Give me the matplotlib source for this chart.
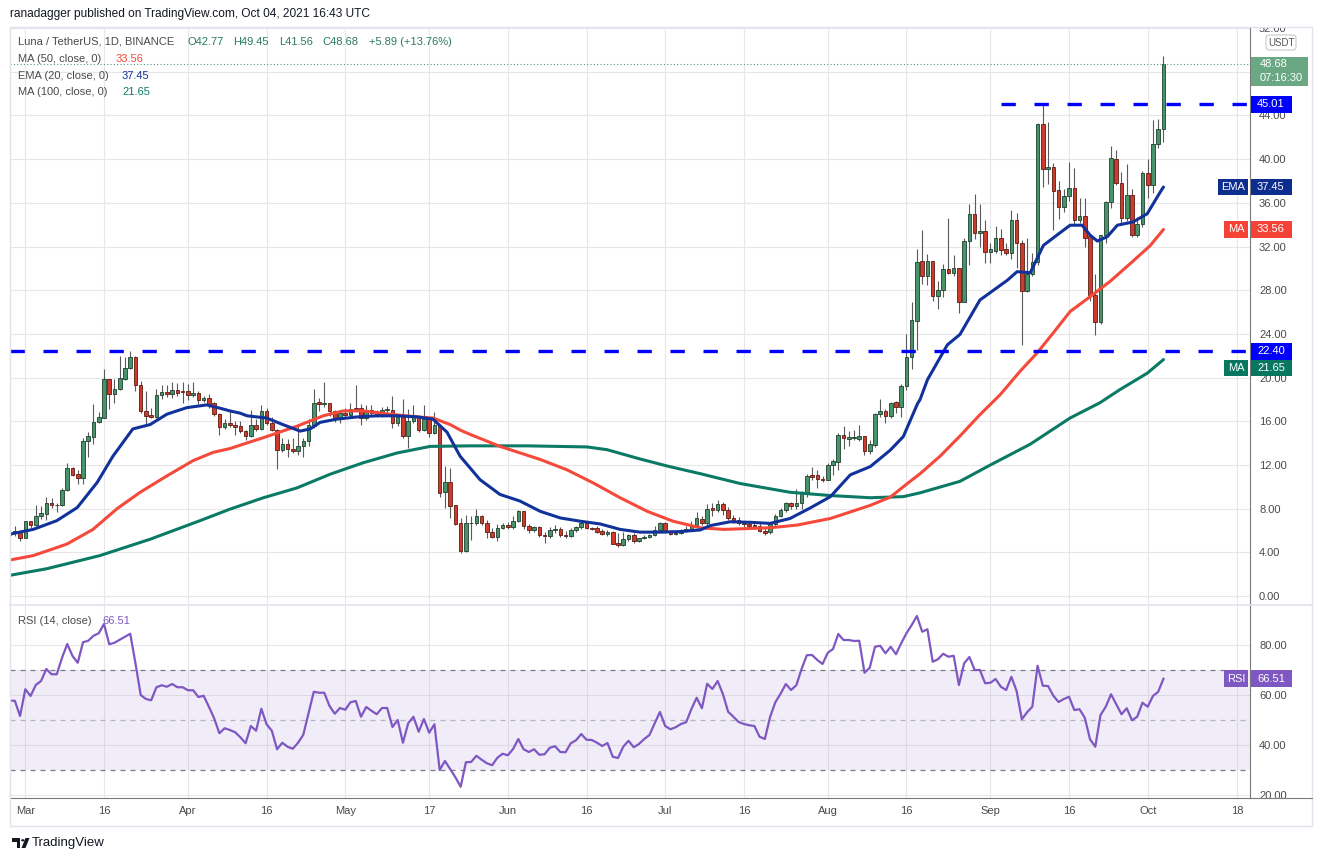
import numpy as np
import pandas as pd
import matplotlib
matplotlib.use("Agg")
import matplotlib.pyplot as plt
from matplotlib.patches import Rectangle, FancyBboxPatch, Polygon, Circle
from matplotlib.transforms import Bbox

plt.rcParams['font.family'] = ['Liberation Sans', 'DejaVu Sans']

# daily candles, LUNA/USDT, 2021-02-26 .. 2021-10-04 (rows of ten days)
opens = [5.55, 5.75, 5.9, 5.35, 6.85, 6.5, 7.3, 7.55, 8.5, 8.35,
         8.3, 9.75, 11.7, 11.15, 10.8, 14.15, 14.6, 15.9, 16.3, 19.9,
         18.5, 19.0, 19.9, 20.9, 21.9, 19.3, 16.95, 16.55, 16.4, 18.45,
         18.7, 18.5, 18.9, 18.75, 18.75, 18.45, 18.55, 17.95, 18.15, 17.65,
         16.7, 15.45, 15.8, 15.65, 15.55, 15.15, 14.65, 15.65, 15.25, 16.9,
         15.8, 15.2, 13.4, 13.9, 13.5, 13.3, 13.7, 14.15, 15.6, 17.75,
         17.6, 17.7, 16.9, 16.2, 16.8, 16.6, 17.2, 17.2, 16.3, 17.05,
         16.8, 16.6, 17.05, 17.05, 15.85, 16.35, 14.65, 16.0, 16.45, 15.2,
         16.25, 14.95, 15.7, 9.5, 10.4, 8.3, 6.65, 4.1, 6.65, 6.7,
         7.35, 6.7, 5.9, 5.45, 6.2, 6.5, 6.3, 6.9, 7.75, 6.4,
         6.0, 6.3, 5.6, 5.5, 6.0, 6.15, 5.6, 5.5, 6.05, 6.3,
         6.65, 6.2, 6.2, 5.95, 5.65, 5.9, 4.9, 4.7, 5.25, 5.6,
         5.0, 5.3, 5.45, 5.55, 6.05, 6.65, 5.9, 5.7, 5.8, 5.95,
         6.1, 6.5, 7.05, 6.65, 8.05, 7.85, 8.4, 7.85, 7.1, 6.95,
         6.7, 6.6, 6.5, 6.45, 5.95, 5.85, 6.6, 7.35, 7.9, 8.5,
         8.2, 8.5, 9.45, 11.05, 11.05, 10.75, 10.6, 12.0, 12.3, 14.75,
         14.4, 14.5, 14.4, 14.65, 13.3, 13.85, 16.65, 16.95, 16.5, 17.75,
         17.3, 19.2, 21.85, 25.2, 30.7, 29.3, 30.65, 27.5, 28.0, 29.9,
         29.55, 30.0, 26.95, 32.55, 35.0, 33.2, 33.4, 31.5, 31.6, 32.75,
         31.75, 31.4, 34.4, 32.3, 27.9, 29.5, 30.55, 43.25, 39.1, 39.25,
         37.15, 35.6, 36.65, 37.4, 34.4, 34.75, 32.95, 27.55, 25.1, 33.1,
         36.1, 40.05, 37.85, 34.65, 36.75, 33.1, 34.1, 38.75, 37.65, 41.4,
         42.77]
highs = [6.0, 6.4, 6.0, 6.9, 6.9, 8.3, 8.25, 9.05, 9.0, 8.55,
         9.9, 12.15, 11.8, 11.55, 14.45, 15.0, 17.55, 16.85, 20.8, 19.9,
         19.85, 22.0, 21.9, 22.4, 22.0, 19.7, 18.8, 17.2, 19.0, 19.3,
         19.3, 19.6, 19.5, 19.6, 19.4, 19.6, 18.8, 18.3, 18.5, 17.8,
         16.75, 16.2, 17.0, 16.0, 16.0, 15.2, 17.0, 16.2, 17.5, 17.2,
         16.35, 15.25, 14.5, 14.35, 14.5, 15.6, 14.5, 16.2, 19.0, 18.1,
         19.6, 17.7, 17.0, 17.0, 17.2, 17.7, 19.35, 17.6, 17.5, 17.5,
         17.0, 17.3, 17.4, 18.3, 16.6, 18.0, 17.1, 17.45, 16.6, 17.5,
         16.35, 16.85, 15.75, 11.9, 11.7, 8.35, 7.15, 7.4, 7.3, 8.0,
         7.4, 6.95, 6.2, 6.55, 6.65, 6.8, 7.3, 7.9, 7.75, 6.55,
         6.4, 6.45, 5.9, 6.3, 6.5, 6.3, 5.95, 6.2, 6.45, 6.9,
         6.7, 6.35, 6.4, 6.1, 6.0, 5.95, 5.8, 5.85, 5.7, 5.75,
         5.35, 5.6, 5.65, 6.4, 6.75, 6.75, 6.0, 5.85, 6.1, 6.45,
         6.9, 7.7, 7.3, 8.4, 8.55, 8.75, 8.6, 8.15, 7.4, 7.2,
         6.9, 6.85, 6.85, 6.65, 6.2, 6.75, 7.5, 8.05, 8.65, 8.65,
         9.8, 9.6, 11.15, 11.8, 11.55, 11.0, 12.15, 12.55, 14.9, 15.6,
         15.15, 15.2, 15.65, 14.65, 14.3, 16.8, 18.0, 17.1, 17.75, 17.85,
         19.45, 24.0, 26.9, 31.8, 33.5, 31.35, 30.65, 28.85, 30.4, 34.65,
         31.2, 30.0, 32.8, 35.85, 36.85, 35.9, 34.4, 32.3, 33.85, 33.65,
         32.3, 35.3, 35.1, 32.6, 32.75, 31.45, 43.3, 45.0, 43.4, 39.65,
         38.0, 37.25, 39.7, 39.2, 36.4, 36.4, 32.95, 29.45, 33.1, 36.15,
         41.25, 40.8, 38.8, 39.6, 37.3, 34.7, 38.95, 40.05, 43.55, 43.65,
         49.45]
lows = [5.4, 5.5, 5.0, 5.3, 6.25, 6.4, 7.05, 7.0, 8.1, 7.7,
        8.25, 9.65, 10.95, 10.3, 10.3, 12.7, 13.9, 15.8, 16.3, 17.1,
        17.65, 18.9, 19.8, 20.8, 18.8, 16.8, 15.75, 16.3, 16.3, 18.0,
        18.2, 18.15, 18.3, 17.7, 17.95, 18.2, 17.6, 17.8, 17.25, 16.5,
        14.75, 15.3, 15.5, 14.75, 14.9, 14.25, 14.6, 15.1, 15.2, 15.7,
        15.1, 11.65, 13.2, 12.7, 13.1, 12.9, 12.7, 13.7, 15.4, 16.9,
        17.3, 16.5, 15.9, 15.8, 16.4, 16.5, 16.9, 15.7, 16.1, 16.5,
        16.4, 16.4, 16.8, 15.35, 15.6, 14.45, 13.55, 15.8, 15.0, 15.1,
        14.6, 14.8, 9.1, 8.05, 7.1, 6.5, 3.95, 4.0, 5.15, 6.5,
        6.5, 5.3, 5.3, 5.0, 6.1, 6.1, 6.1, 6.8, 6.1, 5.75,
        5.85, 5.4, 4.85, 5.3, 5.8, 5.4, 5.3, 5.4, 5.85, 6.1,
        6.1, 6.05, 5.8, 5.55, 5.5, 4.75, 4.5, 4.6, 5.0, 4.9,
        4.95, 5.2, 5.3, 5.5, 5.95, 5.75, 5.6, 5.6, 5.7, 5.85,
        6.0, 6.4, 6.5, 6.5, 7.35, 7.7, 7.4, 6.95, 6.7, 6.5,
        6.2, 6.25, 6.3, 5.9, 5.55, 5.7, 6.4, 7.2, 7.7, 7.95,
        8.0, 8.0, 9.1, 10.6, 9.9, 10.4, 10.6, 11.1, 11.55, 13.5,
        13.7, 14.3, 14.2, 12.9, 13.0, 13.6, 16.4, 15.8, 16.3, 16.8,
        16.4, 18.9, 20.75, 22.5, 28.55, 28.5, 27.0, 26.25, 27.4, 29.45,
        29.3, 25.9, 26.9, 30.3, 32.7, 32.0, 30.45, 30.45, 31.4, 31.2,
        31.2, 30.9, 30.0, 23.0, 27.8, 29.3, 30.3, 37.45, 37.75, 33.5,
        34.55, 35.2, 36.2, 34.0, 34.2, 31.95, 27.0, 23.9, 24.95, 32.3,
        35.5, 37.6, 34.2, 34.3, 32.9, 32.85, 33.8, 36.4, 36.9, 41.0,
        41.56]
closes = [5.75, 5.95, 5.35, 6.85, 6.5, 7.3, 7.6, 8.5, 8.3, 8.3,
          9.75, 11.7, 11.1, 10.8, 14.15, 14.65, 15.9, 16.4, 19.9, 18.5,
          19.0, 19.95, 20.9, 21.9, 19.3, 16.95, 16.5, 16.4, 18.45, 18.7,
          18.5, 18.9, 18.6, 18.65, 18.45, 18.55, 17.95, 18.15, 17.6, 16.7,
          15.45, 15.8, 15.65, 15.5, 15.1, 14.65, 15.7, 15.25, 16.9, 15.8,
          15.2, 13.4, 13.9, 13.5, 13.3, 13.7, 14.15, 15.65, 17.7, 17.6,
          17.7, 16.9, 16.2, 16.8, 16.6, 17.15, 17.1, 16.3, 17.05, 16.75,
          16.6, 17.05, 17.1, 15.85, 16.35, 14.65, 16.0, 16.45, 15.2, 16.25,
          14.95, 15.7, 9.45, 10.4, 8.25, 6.55, 4.1, 6.65, 6.7, 7.35,
          6.7, 5.85, 5.45, 6.2, 6.5, 6.3, 6.9, 7.75, 6.4, 6.0,
          6.3, 5.55, 5.5, 6.0, 6.15, 5.6, 5.5, 6.05, 6.3, 6.65,
          6.2, 6.15, 5.9, 5.65, 5.9, 4.8, 4.7, 5.25, 5.6, 5.0,
          5.3, 5.45, 5.6, 6.05, 6.65, 5.85, 5.7, 5.8, 5.95, 6.15,
          6.5, 7.1, 6.65, 8.0, 7.85, 8.4, 7.85, 7.1, 6.85, 6.65,
          6.55, 6.45, 6.45, 5.95, 5.8, 6.6, 7.35, 7.9, 8.5, 8.2,
          8.5, 9.45, 11.0, 10.9, 10.7, 10.6, 12.0, 12.35, 14.75, 14.5,
          14.55, 14.55, 14.65, 13.3, 13.9, 16.65, 16.95, 16.5, 17.7, 17.3,
          19.2, 21.85, 25.25, 30.6, 29.3, 30.65, 27.5, 28.0, 29.9, 29.55,
          30.0, 26.95, 32.55, 35.0, 33.2, 33.4, 31.5, 31.75, 32.75, 31.65,
          31.4, 34.4, 32.3, 27.9, 29.5, 30.55, 43.25, 39.1, 39.25, 37.1,
          35.6, 36.65, 37.4, 34.4, 34.75, 32.8, 27.55, 25.1, 33.1, 36.1,
          40.15, 37.85, 34.65, 36.75, 33.1, 34.1, 38.75, 37.65, 41.4, 42.77,
          48.68]

rsi = [57.7, 57.7, 51.6, 62.3, 59.6, 64.0, 65.6, 70.4, 68.3, 68.3,
       74.9, 80.4, 75.6, 72.9, 81.1, 81.7, 83.7, 84.7, 88.4, 80.3,
       80.9, 82.1, 83.3, 84.5, 72.7, 60.0, 58.4, 57.9, 63.1, 63.9,
       63.3, 64.4, 63.1, 63.1, 61.9, 61.9, 59.2, 59.7, 55.3, 50.7,
       44.7, 46.7, 46.0, 45.1, 43.1, 40.7, 47.6, 45.7, 54.5, 48.3,
       45.7, 38.3, 40.9, 39.3, 38.5, 40.9, 44.1, 52.7, 61.3, 60.9,
       60.9, 55.6, 52.5, 54.8, 54.1, 57.1, 57.6, 51.3, 55.2, 53.7,
       52.3, 54.8, 54.8, 47.2, 50.0, 40.9, 48.7, 51.3, 45.3, 50.4,
       44.9, 48.3, 30.0, 33.6, 30.4, 27.1, 23.3, 33.1, 33.2, 35.7,
       34.1, 32.7, 31.9, 34.9, 36.5, 35.9, 38.4, 42.4, 38.3, 37.2,
       38.3, 36.1, 36.3, 38.9, 39.5, 37.2, 37.1, 40.7, 41.9, 44.4,
       42.1, 42.0, 40.9, 39.6, 40.8, 35.3, 34.8, 39.3, 41.7, 39.1,
       40.4, 42.4, 44.0, 48.7, 53.2, 47.6, 46.3, 47.1, 48.4, 49.1,
       54.4, 58.9, 54.7, 64.5, 62.4, 65.6, 60.4, 53.3, 51.3, 49.2,
       48.4, 47.9, 47.6, 43.3, 42.4, 51.2, 57.1, 60.5, 64.4, 62.0,
       63.9, 70.4, 75.9, 76.0, 74.0, 72.4, 76.9, 78.4, 84.4, 82.0,
       82.0, 81.6, 81.7, 68.9, 70.9, 79.3, 79.7, 76.7, 79.3, 76.3,
       80.7, 84.7, 88.0, 91.6, 85.3, 86.3, 73.3, 74.3, 76.5, 75.3,
       75.7, 64.0, 72.7, 75.2, 70.0, 70.0, 64.7, 64.9, 66.4, 63.3,
       62.0, 67.3, 61.6, 50.3, 53.1, 55.3, 71.7, 63.7, 63.6, 59.7,
       57.2, 58.4, 59.3, 54.0, 54.3, 50.9, 42.3, 39.3, 52.0, 55.3,
       60.3, 56.3, 52.3, 54.7, 49.9, 51.3, 56.9, 55.3, 59.6, 61.3,
       66.51]

# moving averages: (day from Mar 1, value)
ema20 = [(-2.9, 5.67), (1.5, 6.1), (6, 6.9), (9.9, 8.1), (13.7, 10.4), (16.7, 12.8),
         (20.5, 15.3), (23.8, 15.7), (27, 16.65), (30.8, 17.25), (34.6, 17.5), (37.1, 17.2),
         (39, 16.95), (40.9, 16.75), (42.3, 16.5), (46, 16.3), (49.1, 15.7), (52.4, 15.1),
         (54.3, 15.3), (56.2, 15.9), (59.4, 16.2), (63.3, 16.4), (67, 16.5), (70.9, 16.5),
         (74.7, 16.4), (77.7, 16.2), (80.4, 15.0), (82.9, 12.8), (86.7, 10.65), (90.5, 9.3),
         (94.3, 8.7), (98.2, 7.75), (102, 7.15), (105.8, 6.85), (109.6, 6.6), (113.4, 6.1),
         (117.2, 5.85), (121, 5.85), (124.8, 5.9), (128.7, 6.05), (130.6, 6.45), (134.4, 6.8),
         (138.2, 6.75), (142, 6.65), (145.8, 7.1), (149.6, 8.05), (153.5, 9.1), (157.3, 11.1),
         (161.1, 11.85), (164.9, 13.35), (167.4, 14.6), (170.1, 17.6), (170.6, 18.0),
         (172, 19.8), (175.8, 23.0), (178.2, 23.95), (182, 27.1), (187.2, 28.9),
         (189.1, 29.7), (191.6, 29.6), (194.1, 32.1), (196.7, 33.05), (199.2, 33.95),
         (201.5, 33.95), (203, 33.05), (204.4, 32.5), (206.3, 32.9), (208.2, 33.95),
         (211.2, 34.25), (213.9, 35.0), (216.4, 37.0), (217, 37.45)]
ma50 = [(-2.9, 3.3), (1.5, 3.7), (7.9, 4.75), (12.9, 6.1), (17.5, 8.0), (21.9, 9.5),
        (27, 11.0), (32, 12.4), (35.8, 13.15), (39, 13.5), (40.9, 13.8), (45.4, 14.5),
        (51.8, 15.55), (56.8, 16.5), (60.6, 16.95), (64.4, 16.95), (69.5, 16.65),
        (74.7, 16.4), (77.7, 16.3), (81, 15.7), (82.9, 15.2), (84.8, 14.8), (90.5, 13.7),
        (98.2, 12.5), (103.3, 11.55), (108.3, 10.35), (113.4, 9.0), (118.6, 7.75),
        (123.5, 6.85), (128.7, 6.25), (133.2, 6.1), (142, 6.25), (147.2, 6.5), (153.5, 7.1),
        (161.1, 8.3), (164.9, 9.05), (168.7, 10.5), (170.6, 11.2), (174.4, 12.8),
        (178.2, 14.65), (182, 16.6), (185.9, 18.45), (189.7, 20.6), (192.9, 22.25),
        (196, 24.1), (199.2, 26.05), (203, 27.4), (206.8, 28.8), (210.7, 30.45),
        (214.5, 32.1), (217, 33.56)]
ma100 = [(-2.9, 1.9), (4.1, 2.5), (14.2, 3.7), (23.8, 5.2), (33.3, 6.9), (39, 7.95),
         (45.4, 9.0), (51.8, 9.9), (58.1, 11.15), (64.4, 12.2), (70.9, 13.1), (77.2, 13.7),
         (84.8, 13.75), (95.7, 13.75), (107.1, 13.65), (110.9, 13.4), (117.2, 12.55),
         (122.4, 11.9), (128.7, 11.2), (136.3, 10.3), (145.8, 9.5), (153.5, 9.2),
         (161.1, 9.0), (167.4, 9.1), (170.6, 9.45), (178.2, 10.5), (184, 12.0),
         (191.6, 13.9), (199.2, 16.3), (204.9, 17.7), (208.7, 18.9), (213.9, 20.4),
         (217, 21.65)]

resistance = 45.01
support = 22.40
resistance_from = '2021-09-04'

tick_dates = ['2021-03-01', '2021-03-16', '2021-04-01', '2021-04-16', '2021-05-01',
              '2021-05-17', '2021-06-01', '2021-06-16', '2021-07-01', '2021-07-16',
              '2021-08-01', '2021-08-16', '2021-09-01', '2021-09-16', '2021-10-01',
              '2021-10-18']
tick_labels = ['Mar', '16', 'Apr', '16', 'May', '17', 'Jun', '16', 'Jul', '16',
               'Aug', '16', 'Sep', '16', 'Oct', '18']
price_ticks = [0, 4, 8, 12, 16, 20, 24, 28, 32, 36, 40, 44, 48, 52]
rsi_ticks = [20, 40, 60, 80]

UP, UP_EDGE = '#47946a', '#1f3f2d'
DOWN, DOWN_EDGE = '#cc3b2c', '#5e1a12'
EMA_C, MA50_C, MA100_C = '#11329a', '#f5493b', '#0b7a65'
RSI_C = '#7e57c2'
GRID = '#e7e7e9'
TXT = '#4a4a4a'

base = pd.Timestamp('2021-03-01')
days = np.arange(len(closes)) - 3
tick_x = [(pd.Timestamp(d) - base).days for d in tick_dates]
res_x0 = (pd.Timestamp(resistance_from) - base).days - 0.9

o = np.array(opens)
h = np.array(highs)
l = np.array(lows)
c = np.array(closes)

W, H = 1322, 861
fig = plt.figure(figsize=(W / 100, H / 100), dpi=100)


def fx(px):
    return px / W


def fy(py):
    return 1 - py / H


LEFT, RIGHT = 10, 1250
ax = fig.add_axes([fx(LEFT), fy(604), fx(RIGHT) - fx(LEFT), fy(27) - fy(604)])
rax = fig.add_axes([fx(LEFT), fy(798), fx(RIGHT) - fx(LEFT), fy(605) - fy(798)])

xlim = (-2.92, 233.5)
for a in (ax, rax):
    a.set_xlim(*xlim)
    a.set_xticks(tick_x)
    a.grid(True, color=GRID, lw=0.8)
    a.set_axisbelow(True)
    a.yaxis.tick_right()
    a.tick_params(axis='both', length=0, labelsize=8, labelcolor=TXT)
    a.tick_params(axis='y', pad=6.5)
    for s in ('top', 'left', 'bottom'):
        a.spines[s].set_visible(False)
    a.spines['right'].set_color('#7a7a7a')
    a.spines['right'].set_linewidth(0.8)

ax.set_ylim(-0.73, 52.1)
ax.set_yticks(price_ticks)
# the 48.00 label sits under the last-price tag, so it is left blank
ax.set_yticklabels(['' if v == 48 else '%.2f' % v for v in price_ticks])
ax.tick_params(axis='x', labelbottom=False)

# candles
up = c >= o
ax.vlines(days, l, h, color='#5a5a5a', lw=0.8, zorder=2)
ax.bar(days[up], (c - o)[up], bottom=o[up], width=0.68, color=UP,
       edgecolor=UP_EDGE, lw=0.6, zorder=3)
ax.bar(days[~up], (o - c)[~up], bottom=c[~up], width=0.68, color=DOWN,
       edgecolor=DOWN_EDGE, lw=0.6, zorder=3)

for pts, col in ((ma100, MA100_C), (ma50, MA50_C), (ema20, EMA_C)):
    xs, vs = zip(*pts)
    ax.plot(xs, vs, color=col, lw=2.2, solid_capstyle='round', zorder=4)

dash = (0, (4.3, 5.6))
ax.hlines(resistance, res_x0, xlim[1], colors='#0000ff', lw=2.4, linestyles=[dash], zorder=5)
ax.axhline(support, color='#0000ff', lw=2.4, ls=dash, zorder=5)
ax.axhline(closes[-1], color='#4f9a70', lw=0.8, ls=(0, (1, 2)), zorder=5)

# RSI pane
rax.set_ylim(18.8, 96)
rax.set_yticks(rsi_ticks)
rax.set_yticklabels(['%.2f' % v for v in rsi_ticks])
rax.set_xticklabels(tick_labels)
rax.tick_params(axis='x', pad=6)
rax.spines['bottom'].set_visible(True)
rax.spines['bottom'].set_color('#7a7a7a')
rax.spines['bottom'].set_linewidth(0.8)
rax.axhspan(30, 70, color=RSI_C, alpha=0.1, lw=0)
rax.axhline(70, color='#787b86', lw=0.9, ls=(0, (4, 4)))
rax.axhline(30, color='#787b86', lw=0.9, ls=(0, (4, 4)))
rax.axhline(50, color='#b2b5be', lw=0.9, ls=(0, (4, 4)))
rax.plot(days, rsi, color=RSI_C, lw=1.6, zorder=4)

# clip the half visible top price label
for t in ax.yaxis.get_major_ticks():
    if abs(t.get_loc() - 52) < 0.01:
        t.label2.set_clip_box(Bbox.from_extents(RIGHT, H - 826, 1312, H - 27))
        t.label2.set_clip_on(True)

# chart frame
fig.add_artist(Rectangle((fx(LEFT), fy(826)), fx(1312) - fx(LEFT), fy(27) - fy(826),
                         transform=fig.transFigure, fill=False, ec='#e0e3eb', lw=1))
fig.add_artist(plt.Line2D([fx(LEFT), fx(1312)], [fy(604.5), fy(604.5)],
                          transform=fig.transFigure, color='#e0e3eb', lw=1.2))
fig.add_artist(plt.Line2D([fx(RIGHT), fx(1312)], [fy(798), fy(798)],
                          transform=fig.transFigure, color='#7a7a7a', lw=0.8))


def tag(axis, value, text, bg, shift=0, name=None, name_w=24, x1=1292, hgt=16.5):
    yd = axis.transData.transform((0, value))[1] - shift
    fig.add_artist(Rectangle(((RIGHT + 0.5) / W, (yd - hgt / 2) / H), (x1 - RIGHT - 0.5) / W,
                             hgt / H, transform=fig.transFigure, fc=bg, ec='none', zorder=10))
    fig.text((RIGHT + 7) / W, yd / H, text, color='white', fontsize=8, va='center',
             ha='left', zorder=11)
    if name:
        fig.add_artist(Rectangle(((RIGHT - 2 - name_w) / W, (yd - hgt / 2) / H), name_w / W,
                                 hgt / H, transform=fig.transFigure, fc=bg, ec='none',
                                 zorder=10))
        fig.text((RIGHT - 2 - name_w / 2) / W, yd / H, name, color='white', fontsize=8,
                 va='center', ha='center', zorder=11)


# last price with countdown
yd = ax.transData.transform((0, closes[-1]))[1]
fig.add_artist(Rectangle(((RIGHT + 0.5) / W, (yd - 21.5) / H), 57.5 / W, 29.2 / H,
                         transform=fig.transFigure, fc='#6aa883', ec='none', zorder=10))
fig.text((RIGHT + 10) / W, yd / H, '%.2f' % closes[-1], color='white', fontsize=8,
         va='center', zorder=11)
fig.text((RIGHT + 10) / W, (yd - 14) / H, '07:16:30', color='white', fontsize=8,
         va='center', zorder=11)

tag(ax, resistance, '%.2f' % resistance, '#0000ff')
tag(ax, ema20[-1][1], '%.2f' % ema20[-1][1], '#0d2d8f', name='EMA', name_w=30)
tag(ax, ma50[-1][1], '%.2f' % ma50[-1][1], '#f44336', name='MA')
tag(ax, support, '%.2f' % support, '#0000ff')
tag(ax, ma100[-1][1], '%.2f' % ma100[-1][1], '#08775f', shift=8.5, name='MA')
tag(rax, rsi[-1], '%.2f' % rsi[-1], RSI_C, name='RSI')

fig.add_artist(FancyBboxPatch((fx(1266), fy(50)), fx(30), fy(35) - fy(50),
                              boxstyle='round,pad=0,rounding_size=0.003',
                              transform=fig.transFigure, fc='white', ec='#c8cacf',
                              lw=0.8, zorder=10))
fig.text(fx(1281), fy(42.5), 'USDT', fontsize=7, color='#555555', ha='center',
         va='center', zorder=11)

# header texts
fig.text(fx(10), fy(14), 'ranadagger published on TradingView.com, Oct 04, 2021 16:43 UTC',
         fontsize=8.6, color='#131722', va='center')
GREEN_T = '#2a7a5c'
HDR = 8.0
fig.text(fx(18), fy(42), 'Luna / TetherUS, 1D, BINANCE', fontsize=HDR, color='#4a4a4a',
         va='center')
for xp, s in ((188, 'O%.2f' % opens[-1]), (233, 'H%.2f' % highs[-1]),
              (279, 'L%.2f' % lows[-1]), (322, 'C%.2f' % closes[-1]),
              (369, '+5.89 (+13.76%)')):
    fig.text(fx(xp), fy(42), s, fontsize=HDR, color=GREEN_T, va='center')
legend_rows = ((59, 'MA (50, close, 0)', 116, ma50[-1][1], MA50_C),
               (76, 'EMA (20, close, 0)', 122, ema20[-1][1], EMA_C),
               (92, 'MA (100, close, 0)', 122, ma100[-1][1], MA100_C))
for yp, s, xv, v, col in legend_rows:
    fig.text(fx(18), fy(yp), s, fontsize=HDR, color='#4a4a4a', va='center')
    fig.text(fx(xv), fy(yp), '%.2f' % v, fontsize=HDR, color=col, va='center')
fig.text(fx(18), fy(621), 'RSI (14, close)', fontsize=HDR, color='#4a4a4a', va='center')
fig.text(fx(102), fy(621), '%.2f' % rsi[-1], fontsize=HDR, color=RSI_C, va='center')

# TradingView logo
logo = '#131722'
fig.add_artist(Polygon([(fx(12), fy(838)), (fx(20), fy(838)), (fx(20), fy(848)),
                        (fx(16.5), fy(848)), (fx(16.5), fy(841.5)), (fx(12), fy(841.5))],
                       closed=True, transform=fig.transFigure, fc=logo, ec='none'))
fig.add_artist(Circle((fx(22.8), fy(840.3)), 1.7 / W, transform=fig.transFigure,
                      fc=logo, ec='none'))
fig.add_artist(Polygon([(fx(25.5), fy(838)), (fx(29.5), fy(838)), (fx(25.5), fy(848)),
                        (fx(21.5), fy(848))], closed=True, transform=fig.transFigure,
                       fc=logo, ec='none'))
fig.text(fx(32), fy(843), 'TradingView', fontsize=9.5, color=logo, va='center')

fig.savefig('out.png', dpi=100)
